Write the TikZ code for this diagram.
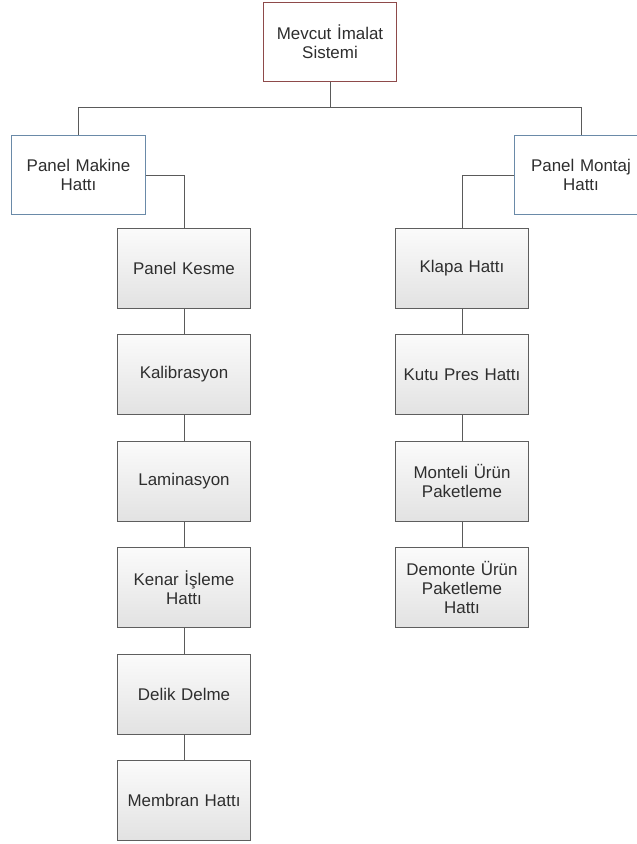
\documentclass[tikz,border=0pt]{standalone}
\usepackage{fontspec}
\setmainfont{Liberation Sans}
\usetikzlibrary{positioning}
\definecolor{rootline}{HTML}{8E4A4A}
\definecolor{groupline}{HTML}{6A8AA8}
\definecolor{stepline}{HTML}{5E5E5E}
\definecolor{linkline}{HTML}{5A5A5A}
\definecolor{textgray}{HTML}{2E2E2E}
\definecolor{steptop}{HTML}{FBFBFB}
\definecolor{stepbottom}{HTML}{E2E2E2}

\tikzset{
  box/.style={draw, align=center, inner sep=2bp, text width=127bp,
              minimum width=133bp, minimum height=79bp, line width=1bp,
              text=textgray, font=\fontsize{17}{19.5}\selectfont},
  rootbox/.style={box, draw=rootline, fill=white},
  groupbox/.style={box, draw=groupline, fill=white},
  stepbox/.style={box, draw=stepline, minimum height=80bp,
                  top color=steptop, bottom color=stepbottom},
  link/.style={draw=linkline, line width=1bp},
}

\begin{document}
\begin{tikzpicture}[x=1bp,y=-1bp]
    \clip (0,0) rectangle (637,844);
    % Top of the tree
    \node[rootbox] (root) at (330,42) {Mevcut İmalat\\Sistemi};
    \node[groupbox] (makine) at (78.5,175) {Panel Makine\\Hattı};
    \node[groupbox] (montaj) at (581,175) {Panel Montaj\\Hattı};
    \coordinate (bus) at (330,107);
    \draw[link] (root) -- (bus) -| (makine);
    \draw[link] (bus) -| (montaj);
    % Left column of steps
    \node[stepbox] (kesme) at (184,268) {Panel Kesme};
    \draw[link] (makine) -| (kesme);
    \foreach \name/\txt [remember=\name as \prev (initially kesme)] in
        {kalib/Kalibrasyon, lamin/Laminasyon, kenar/{Kenar İşleme\\Hattı},
         delik/Delik Delme, membran/Membran Hattı}{
        \node[stepbox, below=25.5bp of \prev] (\name) {\txt};
        \draw[link] (\prev) -- (\name);
    }
    % Right column of steps
    \node[stepbox] (klapa) at (462,268) {Klapa Hattı};
    \draw[link] (montaj) -| (klapa);
    \foreach \name/\txt [remember=\name as \prev (initially klapa)] in
        {kutu/Kutu Pres Hattı, monteli/{Monteli Ürün\\Paketleme},
         demonte/{Demonte Ürün\\Paketleme\\Hattı}}{
        \node[stepbox, below=25.5bp of \prev] (\name) {\txt};
        \draw[link] (\prev) -- (\name);
    }
\end{tikzpicture}
\end{document}
